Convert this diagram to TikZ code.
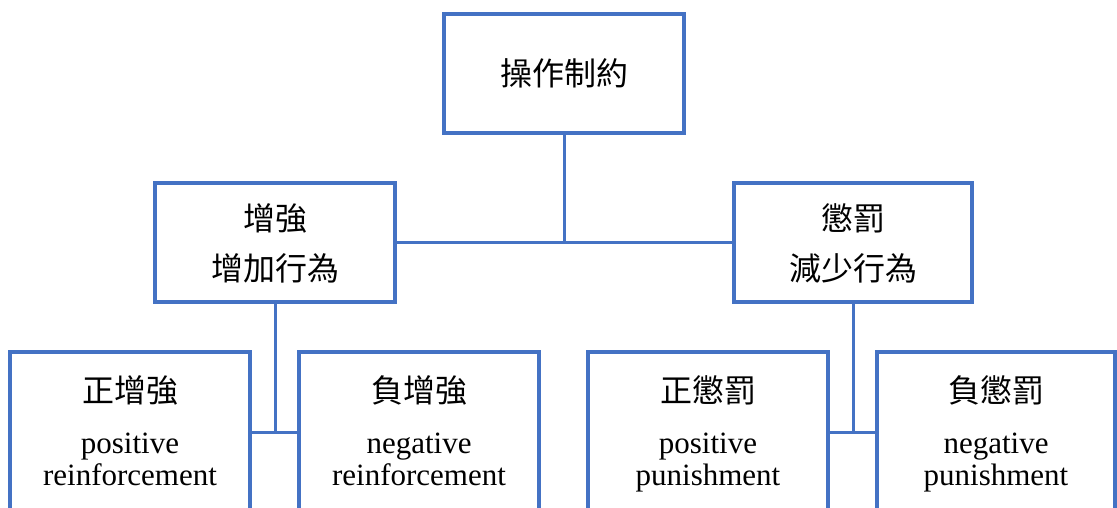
\documentclass[tikz,border=0pt]{standalone}
\usepackage{fontspec}
\setmainfont{Liberation Serif}
\newfontfamily\cjk{Noto Sans CJK TC}
\definecolor{boxblue}{HTML}{4472C4}
\begin{document}
\begin{tikzpicture}[x=1pt,y=-1pt,
  box/.style={draw=boxblue,line width=4pt,rectangle,inner sep=0pt,outer sep=0pt,fill=white},
  link/.style={draw=boxblue,line width=3pt},
  cj/.style={font=\cjk\fontsize{32}{34}\selectfont,inner sep=0pt},
  en/.style={font=\fontsize{31}{32}\selectfont,inner sep=0pt,align=center}]
\useasboundingbox (0,0) rectangle (1117,507);
\clip (0,0) rectangle (1117,507);
% boxes
\node[box,minimum width=240pt,minimum height=119pt] (top) at (564,73.5) {};
\node[box,minimum width=240pt,minimum height=119pt] (ml) at (275,242.5) {};
\node[box,minimum width=238pt,minimum height=119pt] (mr) at (853,242.5) {};
\node[box,minimum width=240pt,minimum height=160pt] (b1) at (130,432) {};
\node[box,minimum width=240pt,minimum height=160pt] (b2) at (419,432) {};
\node[box,minimum width=240pt,minimum height=160pt] (b3) at (708,432) {};
\node[box,minimum width=238pt,minimum height=160pt] (b4) at (996,432) {};
% connectors
\coordinate (j0) at (top.south |- ml.east);
\draw[link] (top.south) -- (j0);
\draw[link] (ml.east) -- (mr.west);
\coordinate (j1) at (ml.south |- b1.east);
\draw[link] (ml.south) -- (j1);
\draw[link] (b1.east) -- (b2.west);
\coordinate (j2) at (mr.south |- b3.east);
\draw[link] (mr.south) -- (j2);
\draw[link] (b3.east) -- (b4.west);
% texts
\node[cj] (t0) at (564,73) {操作制約};
\node[cj] (t1a) at (275,218) {增強};
\node[cj] (t1b) at (275,268) {增加行為};
\node[cj] (t2a) at (853,218) {懲罰};
\node[cj] (t2b) at (853,268) {減少行為};
\node[cj] (t3) at (130,390) {正增強};
\node[cj] (t4) at (419,390) {負增強};
\node[cj] (t5) at (708,390) {正懲罰};
\node[cj] (t6) at (996,390) {負懲罰};
\node[en,anchor=base] (e1) at (130,485) {positive\\reinforcement};
\node[en,anchor=base] (e2) at (419,485) {negative\\reinforcement};
\node[en,anchor=base] (e3) at (708,485) {positive\\punishment};
\node[en,anchor=base] (e4) at (996,485) {negative\\punishment};
\end{tikzpicture}
\end{document}
